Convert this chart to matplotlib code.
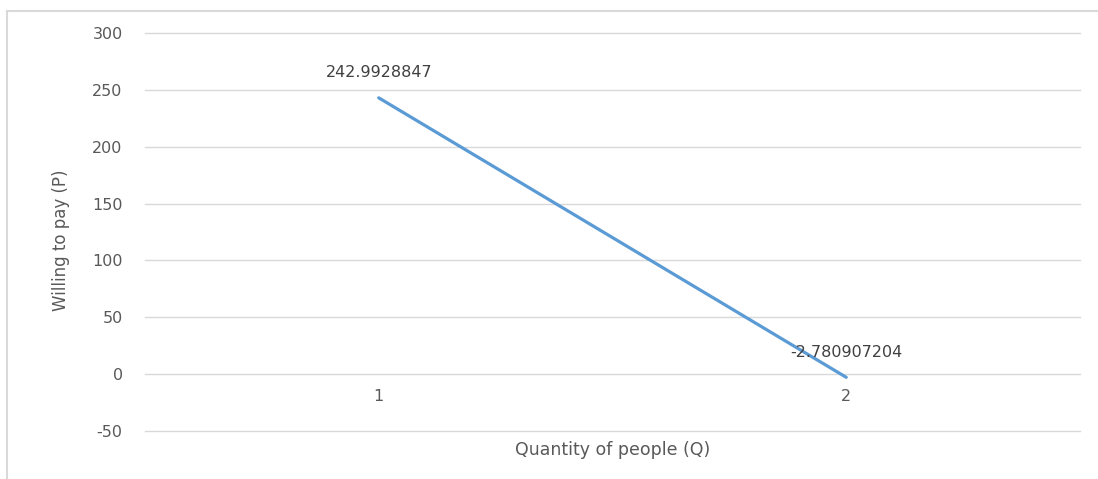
import matplotlib.pyplot as plt
from matplotlib.lines import Line2D

# chart data
categories = ['1', '2']
willing_to_pay = [242.9928847, -2.780907204]
value_labels = ['242.9928847', '-2.780907204']
y_ticks = [-50, 0, 50, 100, 150, 200, 250, 300]

plt.rcParams['font.family'] = ['DejaVu Sans']
text_col = '#595959'
grid_col = '#D9D9D9'

fig = plt.figure(figsize=(10.98, 4.79), dpi=100)
ax = fig.add_axes([0.132, 0.1002, 0.8516, 0.8309])

x = list(range(len(categories)))
ax.plot(x, willing_to_pay, color='#5B9BD5', linewidth=2.3, solid_capstyle='round')

ax.set_xlim(-0.5, len(categories) - 0.5)
ax.set_ylim(-50, 300)
ax.set_yticks(y_ticks)
ax.set_yticklabels([str(v) for v in y_ticks])
ax.grid(axis='y', color=grid_col, linewidth=1)
for gl in ax.get_ygridlines():
    gl.set_clip_on(False)
ax.set_axisbelow(True)
ax.set_xticks([])
for s in ax.spines.values():
    s.set_visible(False)
ax.tick_params(axis='y', length=0, pad=16, labelsize=11.5, labelcolor=text_col)

# category labels sit just under the zero line
for xi, c in zip(x, categories):
    ax.annotate(c, (xi, 0), xytext=(0, -16), textcoords='offset points',
                ha='center', va='center', fontsize=11.5, color=text_col)

# data labels
ax.annotate(value_labels[0], (x[0], willing_to_pay[0]), xytext=(0, 18),
            textcoords='offset points', ha='center', va='center',
            fontsize=11.5, color='#404040')
ax.annotate(value_labels[1], (x[1], willing_to_pay[1]), xytext=(0, 18),
            textcoords='offset points', ha='center', va='center',
            fontsize=11.5, color='#404040')

fig.text(613 / 1098, 1 - 450 / 479, 'Quantity of people (Q)', ha='center',
         va='center', fontsize=12.5, color=text_col)
fig.text(61 / 1098, 1 - 240 / 479, 'Willing to pay (P)', rotation=90,
         ha='center', va='center', fontsize=12, color=text_col)

# chart-area frame (top and left edges visible)
fig.add_artist(Line2D([7 / 1098, 1], [1 - 11 / 479, 1 - 11 / 479],
                      transform=fig.transFigure, color=grid_col, linewidth=1.5))
fig.add_artist(Line2D([7 / 1098, 7 / 1098], [0, 1 - 11 / 479],
                      transform=fig.transFigure, color=grid_col, linewidth=1.5))

fig.savefig('out.png', dpi=100)
